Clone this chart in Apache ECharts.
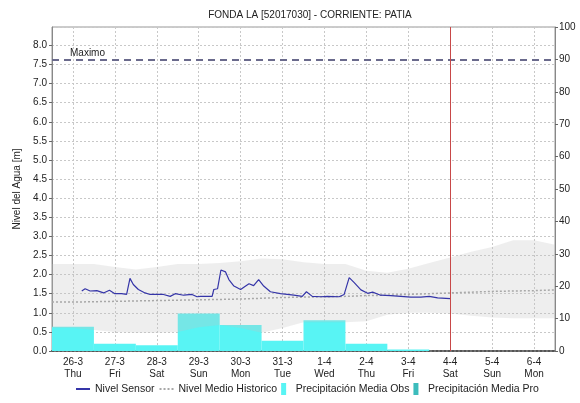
<!DOCTYPE html>
<html>
<head>
<meta charset="utf-8">
<script src="https://cdn.jsdelivr.net/npm/echarts@6/dist/echarts.min.js"></script>
<style>
  html, body { margin: 0; padding: 0; background: #fff; }
  #chart { width: 580px; height: 403px; }
</style>
</head>
<body>
<div id="chart"></div>
<script>
    // days: 0 = 26-3 00:00
    var dayLabels = ['26-3', '27-3', '28-3', '29-3', '30-3', '31-3', '1-4', '2-4', '3-4', '4-4', '5-4', '6-4'];
    var weekDays = ['Thu', 'Fri', 'Sat', 'Sun', 'Mon', 'Tue', 'Wed', 'Thu', 'Fri', 'Sat', 'Sun', 'Mon'];

    // Nivel Sensor [m]
    var sensorDays = [0.21, 0.29, 0.41, 0.57, 0.73, 0.87, 1.0, 1.16, 1.28, 1.36, 1.44, 1.56, 1.72, 1.84, 2.16, 2.32, 2.44, 2.64, 2.84, 2.96,
        3.04, 3.32, 3.36, 3.45, 3.53, 3.64, 3.72, 3.84, 4.0, 4.12, 4.2, 4.31, 4.43, 4.55, 4.71, 4.95, 5.27, 5.47, 5.57, 5.71, 5.91,
        6.07, 6.35, 6.47, 6.59, 6.71, 6.87, 7.03, 7.15, 7.34, 7.58, 7.82, 8.06, 8.3, 8.5, 8.7, 9.0];
    var sensorLevel = [1.57, 1.63, 1.57, 1.58, 1.52, 1.59, 1.5, 1.5, 1.48, 1.9, 1.74, 1.61, 1.52, 1.48, 1.48, 1.43, 1.5, 1.46, 1.48, 1.42,
        1.43, 1.43, 1.61, 1.63, 2.12, 2.07, 1.87, 1.7, 1.61, 1.7, 1.76, 1.71, 1.87, 1.7, 1.55, 1.5, 1.46, 1.43, 1.55, 1.43, 1.42,
        1.43, 1.42, 1.48, 1.92, 1.79, 1.6, 1.51, 1.54, 1.46, 1.45, 1.43, 1.41, 1.41, 1.43, 1.39, 1.37];

    // historic band and mean [m]
    var histDays = [-0.5, 0, 0.5, 1, 1.5, 2, 2.5, 3, 3.5, 4, 4.5, 5, 5.5, 6, 6.5, 7, 7.5, 8, 8.5, 9, 9.5, 10, 10.5, 11, 11.5];
    var histHigh = [2.28, 2.28, 2.28, 2.2, 2.13, 2.2, 2.28, 2.28, 2.3, 2.35, 2.42, 2.4, 2.32, 2.28, 2.28, 2.1, 2.05, 2.15, 2.3, 2.45, 2.6, 2.72, 2.9, 2.9, 2.78];
    var histLow = [0.6, 0.6, 0.55, 0.5, 0.48, 0.48, 0.5, 0.62, 0.68, 0.6, 0.48, 0.6, 0.75, 0.75, 0.75, 0.78, 0.95, 1.0, 1.0, 0.98, 0.92, 0.88, 0.86, 0.86, 0.86];
    var histMean = [1.28, 1.28, 1.29, 1.3, 1.31, 1.32, 1.33, 1.34, 1.35, 1.36, 1.38, 1.4, 1.41, 1.42, 1.43, 1.45, 1.46, 1.48, 1.5, 1.52, 1.54, 1.56, 1.57, 1.58, 1.6];

    // Precipitación [mm] por día
    var rainObsDays = [0, 1, 2, 3, 4, 5, 6, 7, 8];
    var rainObs = [7.5, 2.2, 1.8, 11.6, 8.0, 3.2, 9.5, 2.2, 0.5];
    var rainProDays = [];
    var rainPro = [];

    var maxLevel = 7.63;
    var nowDay = 9;

    function pairs(xs, ys) {
        return xs.map(function (x, i) { return [x, ys[i]]; });
    }

    // half-day slots for the label axis
    var slots = [];
    for (var i = 0; i <= 24; i++) {
        slots.push(i % 2 === 1 ? dayLabels[(i - 1) / 2] + '\n' + weekDays[(i - 1) / 2] : '');
    }
    var onDay = function (idx) { return idx % 2 === 1; };

    function rainItem(params, api) {
        var d = api.value(0);
        var p0 = api.coord([d - 0.5, api.value(1)]);
        var p1 = api.coord([d + 0.5, 0]);
        return {
            type: 'rect',
            shape: { x: p0[0], y: p0[1], width: p1[0] - p0[0], height: p1[1] - p0[1] },
            style: { fill: api.visual('color') }
        };
    }

    // whole historic band drawn once as one polygon
    function bandItem(params, api) {
        if (params.dataIndex !== 0) return;
        var pts = [];
        histDays.forEach(function (d, k) { pts.push(api.coord([d, histHigh[k]])); });
        for (var k = histDays.length - 1; k >= 0; k--) pts.push(api.coord([histDays[k], histLow[k]]));
        return {
            type: 'polygon',
            shape: { points: pts },
            style: { fill: 'rgba(195,195,195,0.28)' }
        };
    }

    var barIcon = 'path://M0,0 h5 v12 h-5z';

    var chart = echarts.init(document.getElementById('chart'));
    var option = {
        animation: false,
        textStyle: { fontFamily: 'Liberation Sans, Arial, sans-serif' },
        title: {
            text: 'FONDA LA [52017030] - CORRIENTE: PATIA',
            left: 305, top: 5, textAlign: 'center',
            textStyle: { fontSize: 10, fontWeight: 'normal', color: '#222' }
        },
        grid: { left: 52, right: 25, top: 27, bottom: 52, show: true, borderColor: '#999', borderWidth: 1 },
        legend: {
            bottom: 3,
            left: 70,
            itemWidth: 14, itemHeight: 12, itemGap: 4,
            textStyle: { fontSize: 10.5, color: '#222' },
            data: [
                { name: 'Nivel Sensor', itemStyle: { opacity: 0 } },
                { name: 'Nivel Medio Historico', itemStyle: { opacity: 0 } },
                { name: 'Precipitación Media Obs', icon: barIcon },
                { name: 'Precipitación Media Pro', icon: barIcon }
            ]
        },
        xAxis: [{
            type: 'category',
            boundaryGap: false,
            data: slots,
            axisLine: { lineStyle: { color: '#555', type: 'dotted', width: 2 } },
            axisTick: { show: false },
            axisLabel: { interval: onDay, fontSize: 10, color: '#222', lineHeight: 12, margin: 5 },
            splitLine: { show: true, interval: onDay, lineStyle: { color: '#c8c8c8', type: [2, 2] } }
        }, {
            type: 'value',
            min: -0.5, max: 11.5,
            show: false
        }],
        yAxis: [{
            type: 'value',
            min: 0, max: 8.48, interval: 0.5,
            name: 'Nivel del Agua [m]',
            nameLocation: 'middle', nameRotate: 90, nameGap: 30,
            nameTextStyle: { fontSize: 10, color: '#222' },
            axisLine: { show: true, onZero: false, lineStyle: { color: '#888' } },
            axisTick: { show: true, length: 3, lineStyle: { color: '#666' } },
            axisLabel: { fontSize: 10, color: '#222', margin: 5, showMaxLabel: false,
                formatter: function (v) { return v.toFixed(1); } },
            splitLine: { show: true, lineStyle: { color: '#c8c8c8', type: [2, 2] } }
        }, {
            type: 'value',
            min: 0, max: 100, interval: 10,
            position: 'right',
            axisLine: { show: true, onZero: false, lineStyle: { color: '#888' } },
            axisTick: { show: true, length: 3, lineStyle: { color: '#666' } },
            axisLabel: { fontSize: 10, color: '#222', margin: 4 },
            splitLine: { show: false }
        }],
        series: [{
            name: 'Precipitación Media Obs',
            type: 'custom',
            xAxisIndex: 1, yAxisIndex: 1,
            itemStyle: { color: '#58f4f4' },
            renderItem: rainItem,
            data: pairs(rainObsDays, rainObs)
        }, {
            name: 'Precipitación Media Pro',
            type: 'custom',
            xAxisIndex: 1, yAxisIndex: 1,
            itemStyle: { color: '#3cbcbc' },
            renderItem: rainItem,
            data: pairs(rainProDays, rainPro)
        }, {
            name: 'Rango Historico',
            type: 'custom',
            xAxisIndex: 1, yAxisIndex: 0,
            silent: true,
            renderItem: bandItem,
            data: pairs(histDays, histHigh)
        }, {
            name: 'Nivel Medio Historico',
            type: 'line',
            xAxisIndex: 1, yAxisIndex: 0,
            symbol: 'none',
            itemStyle: { color: '#a8a8a8' },
            lineStyle: { color: '#a8a8a8', width: 1.5, type: [2, 2] },
            data: pairs(histDays, histMean)
        }, {
            name: 'Nivel Sensor',
            type: 'line',
            xAxisIndex: 1, yAxisIndex: 0,
            symbol: 'none',
            itemStyle: { color: '#3535a8' },
            lineStyle: { color: '#3535a8', width: 1.2 },
            data: pairs(sensorDays, sensorLevel),
            markLine: {
                silent: true,
                symbol: 'none',
                data: [{
                    yAxis: maxLevel,
                    lineStyle: { color: '#6a6a8c', width: 2, type: [7, 5] },
                    label: { show: true, position: 'insideStartTop', formatter: 'Maximo',
                        fontSize: 10, color: '#222', distance: [18, 1] }
                }, {
                    xAxis: nowDay,
                    lineStyle: { color: '#c84848', width: 1, type: 'solid' },
                    label: { show: false }
                }]
            }
        }]
    };
    chart.setOption(option);
</script>
</body>
</html>
